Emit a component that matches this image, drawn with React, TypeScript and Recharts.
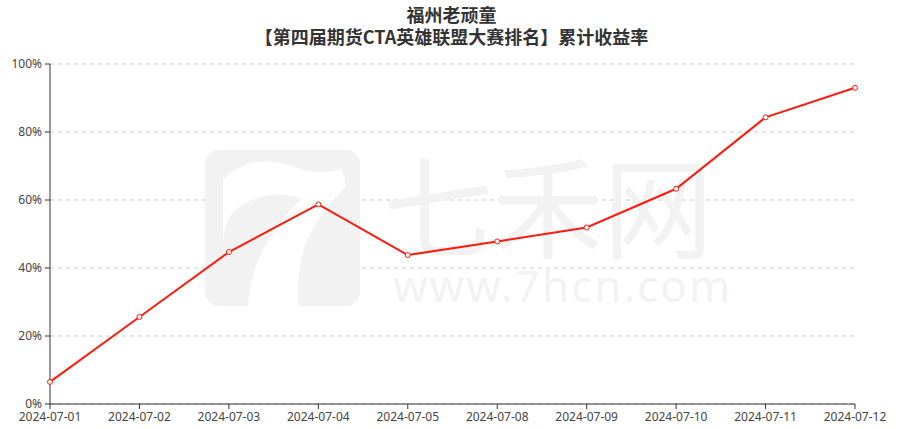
import React from "react";
import { LineChart, Line, XAxis, YAxis, CartesianGrid, Customized } from "recharts";

const dates = ["2024-07-01","2024-07-02","2024-07-03","2024-07-04","2024-07-05","2024-07-08","2024-07-09","2024-07-10","2024-07-11","2024-07-12"];
const returns = [6.5, 25.6, 44.7, 58.7, 43.8, 47.8, 51.9, 63.3, 84.3, 93.0];
const yTicks = [0, 20, 40, 60, 80, 100];
const titleLine1 = "福州老顽童";
const titleLine2 = "【第四届期货CTA英雄联盟大赛排名】累计收益率";

const data = dates.map((d, i) => ({ date: d, value: returns[i] }));

const FONT = "'Noto Sans', 'Noto Sans CJK SC', sans-serif";

const Watermark = () => (
  <g>
    <rect x={205} y={150} width={155} height={156} rx={14} fill="#f2f2f2" />
    <path
      d="M 223 180 Q 250 152 292 166 Q 322 178 342 168 L 346 186 Q 320 212 306 242 Q 296 272 298 306 L 248 306 Q 250 268 270 238 Q 285 214 302 198 Q 268 188 240 206 Q 226 216 223 240 Z"
      fill="#fff"
    />
    <text x={383} y={250} fontSize={110} fill="#f2f2f2" fontFamily="'Noto Sans CJK SC', sans-serif">七禾网</text>
    <text x={393} y={302} fontSize={44} fill="#f2f2f2" fontFamily="'Noto Sans', sans-serif" letterSpacing={2}>www.7hcn.com</text>
  </g>
);

export default function App() {
  return (
    <div style={{ position: "absolute", left: 0, top: 0, width: 903, height: 429, background: "#fff" }}>
      <div style={{ position: "absolute", left: 0, top: 3, width: 903, textAlign: "center", fontFamily: "'Noto Sans CJK SC', sans-serif", fontWeight: "bold", fontSize: 18, lineHeight: "22px", color: "#333", zIndex: 2 }}>
        <div>{titleLine1}</div>
        <div>{titleLine2}</div>
      </div>
      <LineChart width={903} height={429} data={data} margin={{ top: 64, right: 48, bottom: 0, left: 0 }}>
        <Customized component={Watermark} />
        <CartesianGrid horizontal vertical={false} stroke="#ccc" strokeDasharray="4 4" />
        <XAxis
          dataKey="date"
          height={25}
          interval={0}
          tickSize={5}
          tickMargin={3}
          stroke="#333"
          padding={{ left: 0, right: 0 }}
          tick={{ fill: "#444", fontSize: 12, fontFamily: FONT }}
        />
        <YAxis
          width={50}
          domain={[0, 100]}
          ticks={yTicks}
          tickSize={5}
          tickMargin={3}
          stroke="#333"
          tickFormatter={(v) => `${v}%`}
          tick={{ fill: "#444", fontSize: 12, fontFamily: FONT }}
        />
        <Line
          type="linear"
          dataKey="value"
          stroke="#ff1a0d"
          strokeWidth={2}
          dot={{ r: 2.5, fill: "#fff", stroke: "#ff1a0d", strokeWidth: 1 }}
          isAnimationActive={false}
        />
      </LineChart>
    </div>
  );
}
